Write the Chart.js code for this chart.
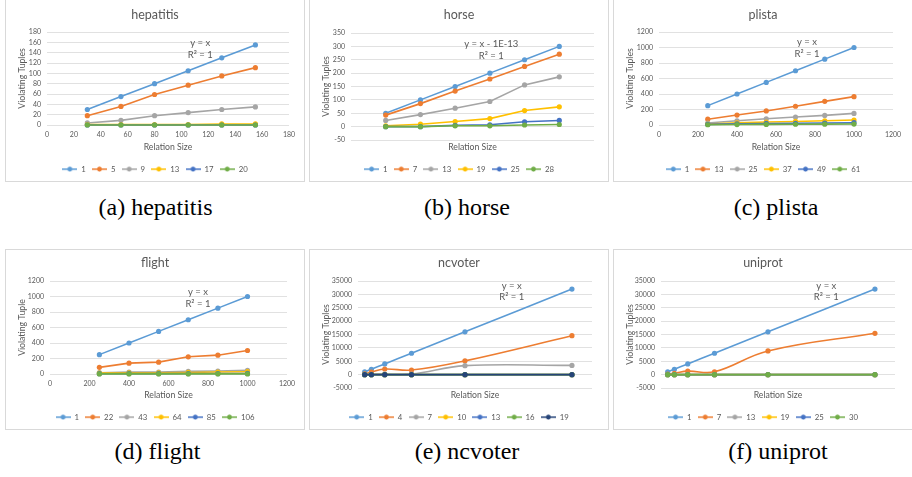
<!DOCTYPE html>
<html>
<head>
<meta charset="utf-8">
<script src="https://cdn.jsdelivr.net/npm/chart.js@4.4.1/dist/chart.umd.min.js"></script>
<style>
  body { margin: 0; width: 912px; height: 477px; background: #fff; position: relative; overflow: hidden; }
  .panel { position: absolute; width: 300px; border: 1px solid #d9d9d9; box-sizing: border-box; background: #fff; }
  .panel canvas { position: absolute; left: 0; top: 0; }
  .cap { position: absolute; width: 300px; text-align: center; font: 24px 'Liberation Serif', serif; line-height: 28px; color: #000; }
</style>
</head>
<body>
<script>
// values
const hepatitisSizes = [30, 55, 80, 105, 130, 155];
const hepatitisNames = ['1', '5', '9', '13', '17', '20'];
const hepatitisTuples = [
    [30, 55, 80, 105, 130, 155],
    [18, 36, 59, 77, 95, 111],
    [4, 9, 18, 24, 30, 35],
    [1, 1, 1, 1, 2, 2],
    [0, 0, 0, 0, 0, 0],
    [0, 0, 0, 0, 0, 0]
];
const hepatitisXTicks = [0, 20, 40, 60, 80, 100, 120, 140, 160, 180];
const hepatitisYTicks = [0, 20, 40, 60, 80, 100, 120, 140, 160, 180];

const horseSizes = [50, 100, 150, 200, 250, 300];
const horseNames = ['1', '7', '13', '19', '25', '28'];
const horseTuples = [
    [50, 100, 150, 200, 250, 300],
    [43, 86, 133, 178, 225, 271],
    [23, 45, 69, 94, 156, 186],
    [3, 9, 19, 30, 60, 74],
    [0, 0, 5, 7, 18, 23],
    [0, 0, 3, 3, 6, 8]
];
const horseXTicks = [0, 50, 100, 150, 200, 250, 300, 350];
const horseYTicks = [-50, 0, 50, 100, 150, 200, 250, 300, 350];

const plistaSizes = [250, 400, 550, 700, 850, 1000];
const plistaNames = ['1', '13', '25', '37', '49', '61'];
const plistaTuples = [
    [250, 400, 550, 700, 850, 1000],
    [75, 128, 181, 242, 305, 366],
    [26, 54, 80, 103, 124, 150],
    [13, 28, 38, 46, 55, 64],
    [8, 15, 20, 22, 25, 30],
    [3, 6, 8, 10, 11, 12]
];
const plistaXTicks = [0, 200, 400, 600, 800, 1000, 1200];
const plistaYTicks = [0, 200, 400, 600, 800, 1000, 1200];

const flightSizes = [250, 400, 550, 700, 850, 1000];
const flightNames = ['1', '22', '43', '64', '85', '106'];
const flightTuples = [
    [250, 400, 550, 700, 850, 1000],
    [86, 140, 153, 222, 243, 303],
    [17, 25, 26, 34, 39, 47],
    [12, 16, 14, 20, 25, 30],
    [4, 5, 5, 6, 6, 7],
    [1, 1, 1, 1, 1, 1]
];
const flightXTicks = [0, 200, 400, 600, 800, 1000, 1200];
const flightYTicks = [0, 200, 400, 600, 800, 1000, 1200];

const ncvoterSizes = [1000, 2000, 4000, 8000, 16000, 32000];
const ncvoterNames = ['1', '4', '7', '10', '13', '16', '19'];
const ncvoterTuples = [
    [1000, 2000, 4000, 8000, 16000, 32000],
    [250, 950, 2100, 1700, 5150, 14550],
    [50, 100, 150, 200, 3350, 3450],
    [0, 0, 0, 0, 0, 0],
    [0, 0, 0, 0, 0, 0],
    [0, 0, 0, 0, 0, 0],
    [0, 0, 0, 0, 0, 0]
];
const ncvoterXTicks = [0, 5000, 10000, 15000, 20000, 25000, 30000, 35000];
const ncvoterYTicks = [-5000, 0, 5000, 10000, 15000, 20000, 25000, 30000, 35000];

const uniprotSizes = [1000, 2000, 4000, 8000, 16000, 32000];
const uniprotNames = ['1', '7', '13', '19', '25', '30'];
const uniprotTuples = [
    [1000, 2000, 4000, 8000, 16000, 32000],
    [200, 500, 1300, 1050, 8850, 15450],
    [0, 0, 0, 0, 0, 0],
    [0, 0, 0, 0, 0, 0],
    [0, 0, 0, 0, 0, 0],
    [0, 0, 0, 0, 0, 0]
];
const uniprotXTicks = [0, 5000, 10000, 15000, 20000, 25000, 30000, 35000];
const uniprotYTicks = [-5000, 0, 5000, 10000, 15000, 20000, 25000, 30000, 35000];

const COLORS = ['#5B9BD5', '#ED7D31', '#A5A5A5', '#FFC000', '#4472C4', '#70AD47', '#264478'];
const GRAY = '#595959';
Chart.defaults.font.family = 'Lato';
Chart.defaults.color = GRAY;

// layout of the six panels (plot = chart area left, right, top, bottom inside the canvas)
const panels = [
    { title: 'hepatitis', caption: '(a) hepatitis', left: 5, row: 0, capX: 155.5,
      sizes: hepatitisSizes, names: hepatitisNames, values: hepatitisTuples,
      xTicks: hepatitisXTicks, yTicks: hepatitisYTicks, plot: [41, 283, 32, 125],
      yTitle: 'Violating Tuples', note: ['y = x', 'R\u00B2 = 1'], noteAt: [114, 158], smooth: false },
    { title: 'horse', caption: '(b) horse', left: 309, row: 0, capX: 467,
      sizes: horseSizes, names: horseNames, values: horseTuples,
      xTicks: horseXTicks, yTicks: horseYTicks, plot: [41, 284, 33, 140],
      yTitle: 'Violating Tuples', note: ['y = x - 1E-13', 'R\u00B2 = 1'], noteAt: [202, 308], smooth: false },
    { title: 'plista', caption: '(c) plista', left: 613, row: 0, capX: 776,
      sizes: plistaSizes, names: plistaNames, values: plistaTuples,
      xTicks: plistaXTicks, yTicks: plistaYTicks, plot: [45, 279, 32, 125],
      yTitle: 'Violating Tuples', note: ['y = x', 'R\u00B2 = 1'], noteAt: [759, 1067], smooth: false },
    { title: 'flight', caption: '(d) flight', left: 5, row: 1, capX: 157.5,
      sizes: flightSizes, names: flightNames, values: flightTuples,
      xTicks: flightXTicks, yTicks: flightYTicks, plot: [44, 281, 31, 124],
      yTitle: 'Violating Tuple', note: ['y = x', 'R\u00B2 = 1'], noteAt: [749, 1054], smooth: false },
    { title: 'ncvoter', caption: '(e) ncvoter', left: 309, row: 1, capX: 467,
      sizes: ncvoterSizes, names: ncvoterNames, values: ncvoterTuples,
      xTicks: ncvoterXTicks, yTicks: ncvoterYTicks, plot: [48, 282, 31, 138],
      yTitle: 'Violating Tuples', note: ['y = x', 'R\u00B2 = 1'], noteAt: [22990, 33240], smooth: true },
    { title: 'uniprot', caption: '(f) uniprot', left: 613, row: 1, capX: 778,
      sizes: uniprotSizes, names: uniprotNames, values: uniprotTuples,
      xTicks: uniprotXTicks, yTicks: uniprotYTicks, plot: [47, 281, 31, 138],
      yTitle: 'Violating Tuples', note: ['y = x', 'R\u00B2 = 1'], noteAt: [24725, 33240], smooth: true }
];
const rows = [
    { top: -1, height: 183, titleY: 15, capY: 207 },
    { top: 249, height: 181, titleY: 13, capY: 451 }
];
const CW = 298;
const TITLE_SIZE = 12.5;
const AXIS_TITLE_SIZE = 8.7;
const TICK_SIZE = 7;

// "y = x / R² = 1" trendline labels
const trendNote = {
    id: 'trendNote',
    afterDatasetsDraw(chart, args, opts) {
        if (!opts.lines) return;
        const ctx = chart.ctx;
        const x = chart.scales.x.getPixelForValue(opts.x);
        const y = chart.scales.y.getPixelForValue(opts.y);
        ctx.save();
        ctx.font = '9.5px Lato';
        ctx.fillStyle = GRAY;
        ctx.textAlign = 'center';
        ctx.textBaseline = 'middle';
        opts.lines.forEach((t, i) => ctx.fillText(t, x, y + i * 11.7));
        ctx.restore();
    }
};

// legend swatch: line with a marker in the middle
function swatch(color) {
    const c = document.createElement('canvas');
    c.width = 15; c.height = 6;
    const g = c.getContext('2d');
    g.strokeStyle = color; g.lineWidth = 1.5;
    g.beginPath(); g.moveTo(0, 3); g.lineTo(15, 3); g.stroke();
    g.fillStyle = color;
    g.beginPath(); g.arc(7.5, 3, 2.4, 0, Math.PI * 2); g.fill();
    return c;
}

panels.forEach(p => {
    const r = rows[p.row];
    const H = r.height - 2;
    const wrap = document.createElement('div');
    wrap.className = 'panel';
    wrap.style.left = p.left + 'px';
    wrap.style.top = r.top + 'px';
    wrap.style.height = r.height + 'px';
    const canvas = document.createElement('canvas');
    canvas.width = CW; canvas.height = H;
    wrap.appendChild(canvas);
    document.body.appendChild(wrap);

    const cap = document.createElement('div');
    cap.className = 'cap';
    cap.textContent = p.caption;
    cap.style.left = (p.capX - 150) + 'px';
    cap.style.top = (r.capY - 14) + 'px';
    document.body.appendChild(cap);

    const [pl, pr, pt, pb] = p.plot;
    const xMax = p.xTicks[p.xTicks.length - 1];
    const yMin = p.yTicks[0];
    const yMax = p.yTicks[p.yTicks.length - 1];
    const y0 = pt + yMax / (yMax - yMin) * (pb - pt);
    const titleLh = TITLE_SIZE * 1.2;
    const titlePadTop = r.titleY - titleLh / 2;
    const axisLh = AXIS_TITLE_SIZE * 1.2;
    const tickLh = TICK_SIZE * 1.2;

    new Chart(canvas, {
        type: 'line',
        data: {
            datasets: p.names.map((name, i) => ({
                label: name,
                data: p.sizes.map((x, j) => ({ x: x, y: p.values[i][j] })),
                borderColor: COLORS[i],
                backgroundColor: COLORS[i],
                pointBackgroundColor: COLORS[i],
                borderWidth: 1.6,
                pointRadius: 2.6,
                pointBorderWidth: 0,
                tension: p.smooth ? 0.4 : 0,
                clip: 4,
                order: p.names.length - i
            }))
        },
        plugins: [trendNote],
        options: {
            responsive: false,
            animation: false,
            layout: { padding: 0 },
            plugins: {
                title: {
                    display: true, text: p.title, color: GRAY,
                    font: { size: TITLE_SIZE, weight: 'normal' },
                    padding: { top: titlePadTop, bottom: pt - titlePadTop - titleLh }
                },
                legend: {
                    position: 'bottom',
                    maxHeight: 22,
                    labels: {
                        usePointStyle: true,
                        pointStyleWidth: 15,
                        padding: 6.25,
                        font: { size: 7.8 },
                        color: GRAY,
                        sort: (a, b) => a.datasetIndex - b.datasetIndex,
                        generateLabels: chart => Chart.defaults.plugins.legend.labels.generateLabels(chart)
                            .map(item => Object.assign(item, { pointStyle: swatch(COLORS[item.datasetIndex]) }))
                    }
                },
                tooltip: { enabled: false },
                trendNote: { x: p.noteAt[0], y: p.noteAt[1], lines: p.note }
            },
            scales: {
                x: {
                    type: 'linear', position: 'bottom',
                    min: 0, max: xMax,
                    grid: { display: false, drawTicks: false },
                    border: { display: false },
                    afterBuildTicks: s => { s.ticks = p.xTicks.map(v => ({ value: v })); },
                    ticks: {
                        autoSkip: false, maxRotation: 0,
                        padding: y0 + 10 - tickLh / 2 - pb,
                        font: { size: TICK_SIZE }, color: GRAY,
                        callback: v => String(v)
                    },
                    title: {
                        display: true, text: 'Relation Size', color: GRAY,
                        font: { size: AXIS_TITLE_SIZE }, padding: { top: 0, bottom: 12 - axisLh / 2 }
                    },
                    afterFit: s => {
                        s.height = H - 22 - pb;
                        s.paddingRight = CW - pr;
                        s.paddingLeft = 0;
                    }
                },
                y: {
                    min: yMin, max: yMax,
                    grid: { color: '#d9d9d9', lineWidth: 0.8, drawTicks: false },
                    border: { display: false },
                    afterBuildTicks: s => { s.ticks = p.yTicks.map(v => ({ value: v })); },
                    ticks: {
                        padding: 6, autoSkip: false,
                        font: { size: TICK_SIZE }, color: GRAY,
                        callback: v => String(v)
                    },
                    title: {
                        display: true, text: p.yTitle, color: GRAY,
                        font: { size: AXIS_TITLE_SIZE }, padding: { top: 16 - axisLh / 2, bottom: 0 }
                    },
                    afterFit: s => { s.width = pl; }
                }
            }
        }
    });
});
</script>
</body>
</html>
